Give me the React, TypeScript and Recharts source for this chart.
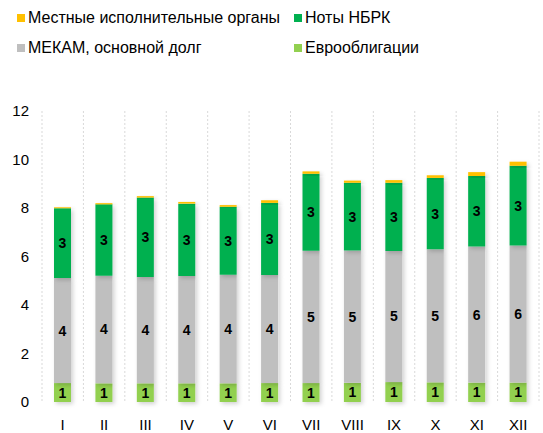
import React from "react"
import { Bar, BarChart, CartesianGrid, LabelList, XAxis, YAxis } from "recharts"

const months = ["I", "II", "III", "IV", "V", "VI", "VII", "VIII", "IX", "X", "XI", "XII"]
const eurobonds = [0.78, 0.77, 0.77, 0.77, 0.77, 0.78, 0.78, 0.79, 0.82, 0.81, 0.8, 0.8]
const mekam = [4.33, 4.44, 4.38, 4.43, 4.48, 4.46, 5.46, 5.46, 5.41, 5.49, 5.61, 5.65]
const notes = [2.88, 2.94, 3.28, 2.98, 2.8, 2.97, 3.17, 2.79, 2.81, 2.94, 2.91, 3.29]
const localGov = [0.04, 0.05, 0.06, 0.07, 0.07, 0.11, 0.1, 0.09, 0.11, 0.11, 0.16, 0.17]
const yTicks = [0, 2, 4, 6, 8, 10, 12]

const legendItems = [
  { name: "Местные исполнительные органы", color: "#FFC000" },
  { name: "Ноты НБРК", color: "#00B050" },
  { name: "МЕКАМ, основной долг", color: "#BFBFBF" },
  { name: "Еврооблигации", color: "#92D050" },
]

const font = "'Liberation Sans', Arial, sans-serif"

export default function App() {
  const chartData = months.map((m, i) => ({
    month: m,
    euro: eurobonds[i],
    mekam: mekam[i],
    notes: notes[i],
    local: localGov[i],
  }))

  const labelStyle = {
    fill: "#000",
    fontSize: 14,
    fontWeight: 700,
    fontFamily: "'Liberation Sans Narrow', " + font,
  }
  const fmt = (v: any) => Math.round(Number(v))

  return (
    <div style={{ position: "absolute", left: 0, top: 0, width: 543, height: 433, background: "#fff" }}>
      <div
        style={{
          position: "absolute",
          left: 17,
          top: 9,
          width: 520,
          display: "grid",
          gridTemplateColumns: "277px 240px",
          rowGap: 12,
          fontFamily: font,
          fontSize: 16,
          color: "#000",
        }}
      >
        {legendItems.map((it) => (
          <div key={it.name} style={{ display: "flex", alignItems: "center", height: 18, whiteSpace: "nowrap" }}>
            <span style={{ width: 8, height: 8, background: it.color, marginRight: 3, display: "inline-block" }} />
            {it.name}
          </div>
        ))}
      </div>
      <BarChart
        width={543}
        height={433}
        data={chartData}
        margin={{ top: 111, right: 4, bottom: 0, left: 0 }}
        barSize={17}
        style={{ fontFamily: font }}
      >
        <defs>
          <filter id="barShadow" x="-50%" y="-50%" width="200%" height="200%">
            <feDropShadow dx="2" dy="2" stdDeviation="2" floodColor="#000" floodOpacity="0.18" />
          </filter>
        </defs>
        <CartesianGrid
          horizontal={false}
          stroke="#D9D9D9"
          strokeDasharray="2 2"
          verticalCoordinatesGenerator={({ offset }: any) =>
            Array.from({ length: months.length + 1 }, (_, i) => offset.left + (i * offset.width) / months.length)
          }
        />
        <XAxis
          dataKey="month"
          axisLine={false}
          tickLine={false}
          height={31}
          tickMargin={11}
          interval={0}
          tick={{ fill: "#000", fontSize: 15 }}
        />
        <YAxis
          domain={[0, 12]}
          ticks={yTicks}
          axisLine={false}
          tickLine={false}
          width={42}
          tickMargin={7}
          tick={{ fill: "#000", fontSize: 15 }}
        />
        <Bar dataKey="euro" stackId="a" fill="#92D050" isAnimationActive={false} filter="url(#barShadow)">
          <LabelList dataKey="euro" position="center" formatter={fmt} style={labelStyle} />
        </Bar>
        <Bar dataKey="mekam" stackId="a" fill="#BFBFBF" isAnimationActive={false} filter="url(#barShadow)">
          <LabelList dataKey="mekam" position="center" formatter={fmt} style={labelStyle} />
        </Bar>
        <Bar dataKey="notes" stackId="a" fill="#00B050" isAnimationActive={false} filter="url(#barShadow)">
          <LabelList dataKey="notes" position="center" formatter={fmt} style={labelStyle} />
        </Bar>
        <Bar dataKey="local" stackId="a" fill="#FFC000" isAnimationActive={false} filter="url(#barShadow)" />
      </BarChart>
    </div>
  )
}
